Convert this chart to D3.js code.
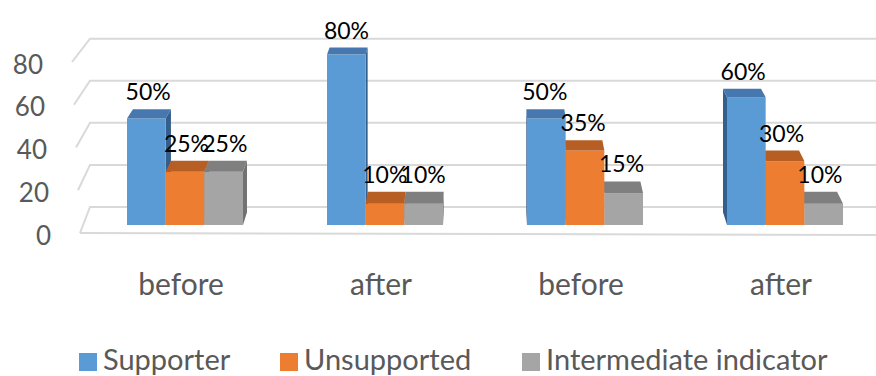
<!DOCTYPE html>
<html>
<head>
<meta charset="utf-8">
<script src="https://cdn.jsdelivr.net/npm/d3@7/dist/d3.min.js"></script>
<style>
  html, body { margin: 0; padding: 0; background: #fff; }
  svg { display: block; font-family: Lato, "Open Sans", sans-serif; font-weight: 400; }
</style>
</head>
<body>
<svg id="chart" width="876" height="376"></svg>
<script>
// ---- data ----
const categories = ["before", "after", "before", "after"];
const seriesNames = ["Supporter", "Unsupported", "Intermediate indicator"];
const supporter = [50, 80, 50, 60];
const unsupported = [25, 10, 35, 30];
const intermediate = [25, 10, 15, 10];
const yTicks = [0, 20, 40, 60, 80];

const seriesValues = [supporter, unsupported, intermediate];
const frontColors = ["#5B9BD5", "#ED7D31", "#A5A5A5"];
const topColors = ["#4677AE", "#B65E24", "#7F7F7F"];
const sideColors = ["#345E8C", "#A2531F", "#727272"];

const svg = d3.select("#chart");

// ---- scales (one per depth plane of the pseudo-3D view) ----
const x0 = d3.scaleBand().domain(d3.range(categories.length))
  .range([87, 883]).paddingInner(0.42).paddingOuter(0.2);
const x1 = d3.scaleBand().domain(seriesNames).range([0, x0.bandwidth()]);

const yBar = d3.scaleLinear().domain([0, 80]).range([225, 225 - 2.13 * 80]);
const yWall = d3.scaleLinear().domain([0, 80]).range([207, 38.7]);
const yEdge = d3.scaleLinear().domain([0, 80]).range([233, 62]);
const xEdge = d3.scaleLinear().domain([0, 80]).range([80, 72]);
const wallLeft = 90, wallRight = 876;

// depth projection for the back face of a bar
const back = (x, y) => [x + 0.0165 * (485 - x), y - 0.0336 * (y + 154)];

// ---- gridlines: left wall diagonals + back wall ----
const grid = svg.append("g").attr("stroke", "#D9D9D9").attr("stroke-width", 2).attr("fill", "none");
yTicks.forEach(v => {
  grid.append("path").attr("d",
    `M${xEdge(v)},${yEdge(v)} L${wallLeft},${yWall(v)} L${wallRight},${yWall(v)}`);
});
// floor front edge
grid.append("path").attr("d", `M${xEdge(0)},${yEdge(0)} L${wallRight},${yEdge(0) + 2}`);

// ---- y axis labels ----
svg.append("g").selectAll("text").data(yTicks).join("text")
  .attr("x", d => xEdge(d) - 29)
  .attr("y", d => yEdge(d) + 11.5)
  .attr("text-anchor", "end")
  .attr("font-size", 26)
  .attr("fill", "#595959")
  .text(d => d);

// ---- bars ----
const pts = a => a.map(p => p.join(",")).join(" ");
const barsG = svg.append("g");
const labelData = [];
categories.forEach((cat, ci) => {
  const cx = x0(ci) + x0.bandwidth() / 2;
  const vpRight = cx < 485;
  const order = vpRight ? [0, 1, 2] : [2, 1, 0];
  order.forEach(si => {
    const v = seriesValues[si][ci];
    const xa = x0(ci) + x1(seriesNames[si]);
    const xb = xa + x1.bandwidth();
    const yt = yBar(v), yb = yBar(0);
    const g = barsG.append("g");
    // side face
    const sx = vpRight ? xb : xa;
    g.append("polygon")
      .attr("points", pts([[sx, yt], back(sx, yt), back(sx, yb), [sx, yb]]))
      .attr("fill", sideColors[si]);
    // front face
    g.append("rect").attr("x", xa).attr("y", yt)
      .attr("width", xb - xa).attr("height", yb - yt)
      .attr("fill", frontColors[si]);
    // top face
    g.append("polygon")
      .attr("points", pts([[xa, yt], [xb, yt], back(xb, yt), back(xa, yt)]))
      .attr("fill", topColors[si]);
    const bt = back((xa + xb) / 2, yt);
    labelData.push({ x: ((xa + xb) / 2 + bt[0]) / 2 - 1, y: bt[1] - 9, t: v + "%" });
  });
});

// ---- data labels ----
svg.append("g").selectAll("text").data(labelData).join("text")
  .attr("x", d => d.x).attr("y", d => d.y)
  .attr("text-anchor", "middle")
  .attr("font-size", 23)
  .attr("fill", "#000")
  .text(d => d.t);

// ---- category labels ----
svg.append("g").selectAll("text").data(categories).join("text")
  .attr("x", (d, i) => x0(i) + x0.bandwidth() / 2 - 4)
  .attr("y", 295)
  .attr("text-anchor", "middle")
  .attr("font-size", 30)
  .attr("fill", "#595959")
  .text(d => d);

// ---- legend ----
const legendX = [79, 280, 522];
const leg = svg.append("g").selectAll("g").data(seriesNames).join("g")
  .attr("transform", (d, i) => `translate(${legendX[i]},353)`);
leg.append("rect").attr("width", 18).attr("height", 18)
  .attr("fill", (d, i) => frontColors[i]);
leg.append("text").attr("x", 24).attr("y", 17)
  .attr("font-size", 29).attr("fill", "#595959")
  .text(d => d);
</script>
</body>
</html>
